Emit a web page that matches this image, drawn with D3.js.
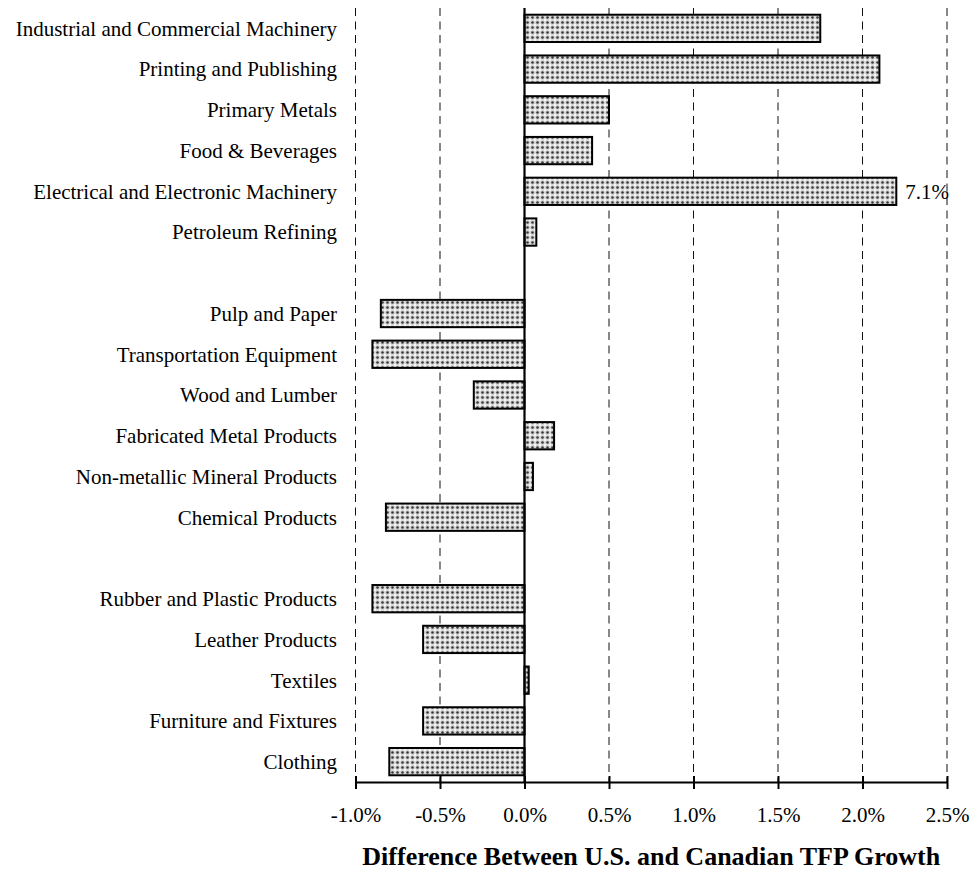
<!DOCTYPE html>
<html>
<head>
<meta charset="utf-8">
<script src="https://cdn.jsdelivr.net/npm/d3@7"></script>
<style>
  html, body { margin: 0; padding: 0; background: #fff; }
  svg, svg text { font-family: "Liberation Serif", "Times New Roman", Times, serif; fill: #000; }
</style>
</head>
<body>
<svg id="chart" width="972" height="871" font-family="Liberation Serif, Times New Roman, serif"></svg>
<script>
// ---- data ----
const categories = [
  "Industrial and Commercial Machinery",
  "Printing and Publishing",
  "Primary Metals",
  "Food & Beverages",
  "Electrical and Electronic Machinery",
  "Petroleum Refining",
  "",
  "Pulp and Paper",
  "Transportation Equipment",
  "Wood and Lumber",
  "Fabricated Metal Products",
  "Non-metallic Mineral Products",
  "Chemical Products",
  "",
  "Rubber and Plastic Products",
  "Leather Products",
  "Textiles",
  "Furniture and Fixtures",
  "Clothing"
];
const values = [1.75, 2.10, 0.50, 0.40, 2.20, 0.07, null,
                -0.85, -0.90, -0.30, 0.175, 0.05, -0.82, null,
                -0.90, -0.60, 0.025, -0.60, -0.80];
const barNotes = [null, null, null, null, "7.1%", null, null,
                  null, null, null, null, null, null, null,
                  null, null, null, null, null];
const xTicks = [-1.0, -0.5, 0.0, 0.5, 1.0, 1.5, 2.0, 2.5];
const xTickLabels = ["-1.0%", "-0.5%", "0.0%", "0.5%", "1.0%", "1.5%", "2.0%", "2.5%"];
const xTitle = "Difference Between U.S. and Canadian TFP Growth";

(function () {
const FONT = "Liberation Serif, Times New Roman, serif";
const svg = d3.select("#chart");
const pLeft = 355.5, pRight = 947, pTop = 8, pBottom = 782;

const rows = categories.map((c, i) => ({ key: "r" + i, label: c, value: values[i], note: barNotes[i] }));

const x = d3.scaleLinear().domain([-1.0, 2.5]).range([pLeft, pRight]);
const y = d3.scaleBand().domain(rows.map(d => d.key)).range([pTop, pBottom])
  .paddingInner(0.33).paddingOuter(0.165);

// pattern
const defs = svg.append("defs");
const pat = defs.append("pattern").attr("id", "dots")
  .attr("patternUnits", "userSpaceOnUse").attr("width", 5).attr("height", 5);
pat.append("rect").attr("width", 5).attr("height", 5).attr("fill", "#d8d8d8");
pat.append("circle").attr("cx", 2.5).attr("cy", 2.5).attr("r", 1.3).attr("fill", "#3a3a3a");
[[0,0],[5,0],[0,5],[5,5]].forEach(p =>
  pat.append("circle").attr("cx", p[0]).attr("cy", p[1]).attr("r", 1.0).attr("fill", "#ffffff"));

// dashed gridlines
svg.append("g").selectAll("line")
  .data(xTicks.filter(t => t !== 0))
  .join("line")
  .attr("x1", d => x(d)).attr("x2", d => x(d))
  .attr("y1", pTop).attr("y2", pBottom)
  .attr("stroke", "#111").attr("stroke-width", 1)
  .attr("stroke-dasharray", "8,5.5");

// bars
const barRows = rows.filter(d => d.value !== null);
svg.append("g").selectAll("rect")
  .data(barRows)
  .join("rect")
  .attr("x", d => Math.min(x(0), x(d.value)))
  .attr("width", d => Math.abs(x(d.value) - x(0)))
  .attr("y", d => y(d.key))
  .attr("height", y.bandwidth())
  .attr("fill", "url(#dots)")
  .attr("stroke", "#000").attr("stroke-width", 2);

// notes
svg.append("g").selectAll("text")
  .data(barRows.filter(d => d.note))
  .join("text")
  .attr("x", d => x(d.value) + 9)
  .attr("y", d => y(d.key) + y.bandwidth() / 2)
  .attr("dy", "0.35em")
  .attr("font-family", FONT)
  .attr("font-size", 21)
  .text(d => d.note);

// zero axis line
svg.append("line")
  .attr("x1", x(0)).attr("x2", x(0))
  .attr("y1", pTop).attr("y2", pBottom)
  .attr("stroke", "#000").attr("stroke-width", 2.2);

// category labels
svg.append("g").selectAll("text")
  .data(rows.filter(d => d.label))
  .join("text")
  .attr("x", 337)
  .attr("y", d => y(d.key) + y.bandwidth() / 2)
  .attr("dy", "0.35em")
  .attr("text-anchor", "end")
  .attr("font-family", FONT)
  .attr("font-size", 21)
  .text(d => d.label);

// bottom axis
const xAxis = d3.axisBottom(x).tickValues(xTicks)
  .tickFormat((d, i) => xTickLabels[i])
  .tickSize(6).tickSizeOuter(0);
const gx = svg.append("g").attr("transform", `translate(0,${pBottom})`).call(xAxis);
gx.attr("font-family", FONT);
gx.select(".domain").attr("stroke", "#000").attr("stroke-width", 2);
gx.selectAll(".tick line").attr("stroke", "#000").attr("stroke-width", 2).attr("y1", -6).attr("y2", 7);
gx.selectAll(".tick text")
  .attr("font-family", FONT)
  .attr("font-size", 21).attr("fill", "#000")
  .attr("y", 0).attr("dy", null)
  .attr("transform", "translate(0,40)");

// axis title
svg.append("text")
  .attr("x", (x(-1) + x(2.5)) / 2)
  .attr("y", 865)
  .attr("text-anchor", "middle")
  .attr("font-family", FONT)
  .attr("font-size", 26)
  .attr("font-weight", "bold")
  .text(xTitle);
})();
</script>
</body>
</html>
